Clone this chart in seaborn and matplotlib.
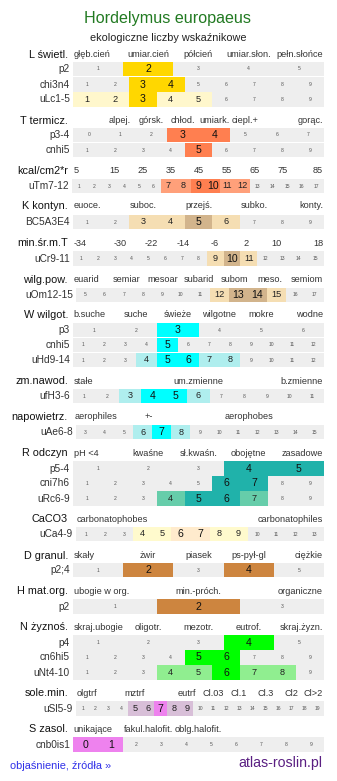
import numpy as np
import matplotlib
matplotlib.use("Agg")
import matplotlib.pyplot as plt
from matplotlib.colors import ListedColormap
import seaborn as sns

# ------------------------------------------------------------------ data
TITLE = "Hordelymus europaeus"
SUBTITLE = "ekologiczne liczby wskaźnikowe"
FOOT_LEFT = "objaśnienie, źródła »"
FOOT_RIGHT = "atlas-roslin.pl"

SECTION_NAMES = ["L świetl.", "T termicz.", "kcal/cm2*r", "K kontyn.", "min.śr.m.T",
                 "wilg.pow.", "W wilgot.", "zm.nawod.", "napowietrz.", "R odczyn",
                 "CaCO3", "D granul.", "H mat.org.", "N żyznoś.", "sole.min.", "S zasol."]

SECTION_TICKS = [
    ["głęb.cień", "umiar.cień", "półcień", "umiar.słon.", "pełn.słońce"],
    ["", "alpej.", "górsk.", "chłod.", "umiark.", "ciepl.+", "", "gorąc."],
    ["5", "15", "25", "35", "45", "55", "65", "75", "85"],
    ["euoce.", "", "suboc.", "", "przejś.", "", "subko.", "", "konty."],
    ["-34", "-30", "-22", "-14", "-6", "2", "10", "18"],
    ["euarid", "semiar", "mesoar", "subarid", "subom", "meso.", "semiom"],
    ["b.suche", "suche", "świeże", "wilgotne", "mokre", "wodne"],
    ["stałe", "um.zmienne", "b.zmienne"],
    ["aerophiles", "+-", "", "aerophobes", ""],
    ["pH <4", "kwaśne", "sł.kwaśn.", "obojętne", "zasadowe"],
    ["carbonatophobes", "carbonatophiles"],
    ["skały", "żwir", "piasek", "ps-pył-gl", "ciężkie"],
    ["ubogie w org.", "min.-próch.", "organiczne"],
    ["skraj.ubogie", "oligotr.", "mezotr.", "eutrof.", "skraj.żyzn."],
    ["olgtrf", "", "", "", "mztrf", "", "", "", "eutrf", "", "Cl.03", "", "Cl.1", "",
     "Cl.3", "", "Cl2", "", "Cl>2"],
    ["unikające", "fakul.halofit.", "oblg.halofit.", "", ""],
]

ROW_SECTION = [0, 0, 0, 1, 1, 2, 3, 4, 5, 6, 6, 6, 7, 8, 9, 9, 9, 10, 11, 12, 13, 13, 13, 14, 15]
ROW_LABELS = ["p2", "chi3n4", "uLc1-5", "p3-4", "cnhi5", "uTm7-12", "BC5A3E4", "uCr9-11",
              "uOm12-15", "p3", "cnhi5", "uHd9-14", "ufH3-6", "uAe6-8", "p5-4", "cni7h6",
              "uRc6-9", "uCa4-9", "p2;4", "p2", "p4", "cn6hi5", "uNt4-10", "uSl5-9", "cnb0is1"]
ROW_FIRST = [1, 1, 1, 0, 1, 1, 1, 1, 5, 1, 1, 1, 1, 3, 1, 1, 1, 1, 1, 1, 1, 1, 1, 1, 0]
ROW_LAST = [5, 9, 9, 7, 9, 17, 9, 15, 17, 6, 12, 12, 11, 15, 5, 9, 9, 13, 5, 3, 5, 9, 9, 19, 9]
ROW_DARK = [[2], [3, 4], [3], [3, 4], [5], [9, 10], [5], [10], [13, 14], [3], [5], [5, 6],
            [4, 5], [7], [4, 5], [6, 7], [5, 6], [6, 7], [2, 4], [2], [4], [5, 6], [6], [7], [0, 1]]
ROW_LIGHT = [[], [], [1, 2, 4, 5], [], [], [7, 8, 11, 12], [3, 4, 6], [9, 11], [12, 15], [], [],
             [4, 7, 8], [3, 6], [6, 8], [], [], [4, 7], [4, 5, 8, 9], [], [], [], [],
             [4, 5, 7, 8], [5, 6, 8, 9], []]

# ------------------------------------------------------------------ style / layout
W, H = 337, 781
GREY = "#EEEEEE"
SECTION_COLORS = [("#FFD700", "#FFF7CC"), ("#FF7F50", "#FFA07A"), ("#FF7F50", "#FFA07A"),
                  ("#D2B48C", "#F5DEB3"), ("#D2B48C", "#F5DEB3"), ("#D2B48C", "#F5DEB3"),
                  ("#00FFFF", "#AFEEEE"), ("#00FFFF", "#AFEEEE"), ("#00FFFF", "#AFEEEE"),
                  ("#20B2AA", "#66CDAA"), ("#FFEBCD", "#FFFACD"), ("#CD853F", "#CD853F"),
                  ("#CD853F", "#CD853F"), ("#00FF00", "#90EE90"), ("#EE82EE", "#D8BFD8"),
                  ("#EE82EE", "#EE82EE")]
SECTION_Y = [54.5, 120.5, 170.5, 206, 243, 280, 314.5, 381, 416.5, 453.5, 519, 556, 591,
             627, 693, 729]
ROW_Y = [69, 84.5, 99.5, 135, 150, 186, 222, 258.5, 294.7, 330, 345, 360, 396, 432,
         468.5, 483.5, 498.5, 534, 570, 606.5, 642.5, 657.5, 672.5, 708.5, 744.5]
ROW_X0 = [73, 73, 73, 73, 73, 72, 73, 73, 76, 73, 73, 73, 73, 76, 73, 73, 73, 76, 73, 73,
          73, 73, 73, 76, 73]
X1 = 324
ROW_H = 14.2
TICK_STRIP_X0 = [73, 73, 73, 73, 73, 73, 73, 73, 74, 73, 76, 73, 73, 73, 76, 73]

sns.set_theme(style="white")
plt.rcParams['font.family'] = ['Liberation Sans', 'DejaVu Sans']
TXT = "#333333"

fig = plt.figure(figsize=(W / 100, H / 100), dpi=100)
fig.patch.set_facecolor("white")
top = fig.add_axes([0, 0, 1, 1])
top.set_xlim(0, W)
top.set_ylim(H, 0)
top.set_axis_off()

top.text(167.5, 19, TITLE, ha="center", va="center", fontsize=11.6, color="#227a22")
top.text(168, 38, SUBTITLE, ha="center", va="center", fontsize=7.8, color="#222222")

# section headers and their scale labels
for s, name in enumerate(SECTION_NAMES):
    y = SECTION_Y[s]
    top.text(68, y, name, ha="right", va="center", fontsize=7.8, color="#111111")
    ticks = SECTION_TICKS[s]
    n = len(ticks)
    x0 = TICK_STRIP_X0[s]
    w = (X1 - x0) / n
    for i, t in enumerate(ticks):
        if not t:
            continue
        if i == 0:
            top.text(x0 + 0.5, y, t, ha="left", va="center", fontsize=6.6, color=TXT)
        elif i == n - 1:
            top.text(X1 - 1, y, t, ha="right", va="center", fontsize=6.6, color=TXT)
        else:
            top.text(x0 + (i + 0.5) * w, y, t, ha="center", va="center", fontsize=6.6,
                     color=TXT)

# rows: each one is a one-line seaborn heatmap
for r, label in enumerate(ROW_LABELS):
    s = ROW_SECTION[r]
    dark, light = SECTION_COLORS[s]
    values = list(range(ROW_FIRST[r], ROW_LAST[r] + 1))
    levels = [2 if v in ROW_DARK[r] else (1 if v in ROW_LIGHT[r] else 0) for v in values]
    x0 = ROW_X0[r]
    yc = ROW_Y[r]
    ax = fig.add_axes([x0 / W, 1 - (yc + ROW_H / 2) / H, (X1 - x0) / W, ROW_H / H])
    sns.heatmap(np.array([levels]), cmap=ListedColormap([GREY, light, dark]), vmin=0, vmax=2,
                cbar=False, annot=np.array([[str(v) for v in values]]), fmt="",
                xticklabels=False, yticklabels=False, ax=ax, linewidths=0)
    for t in ax.texts:
        idx = int(t.get_position()[0])
        lv = levels[idx]
        if lv == 2:
            t.set_fontsize(7.6)
            t.set_color("#111111")
        elif lv == 1:
            t.set_fontsize(6.6)
            t.set_color("#222222")
        else:
            t.set_fontsize(3.6)
            t.set_color("#555555")
    ax.set_axis_off()
    top.text(x0 - 3, yc, label, ha="right", va="center", fontsize=7.3, color=TXT)

top.text(10, 766, FOOT_LEFT, ha="left", va="center", fontsize=7.9, color="#3030e8")
top.text(322, 763, FOOT_RIGHT, ha="right", va="center", fontsize=10.2, color="#5a1f82")

fig.savefig("out.png", dpi=100)
